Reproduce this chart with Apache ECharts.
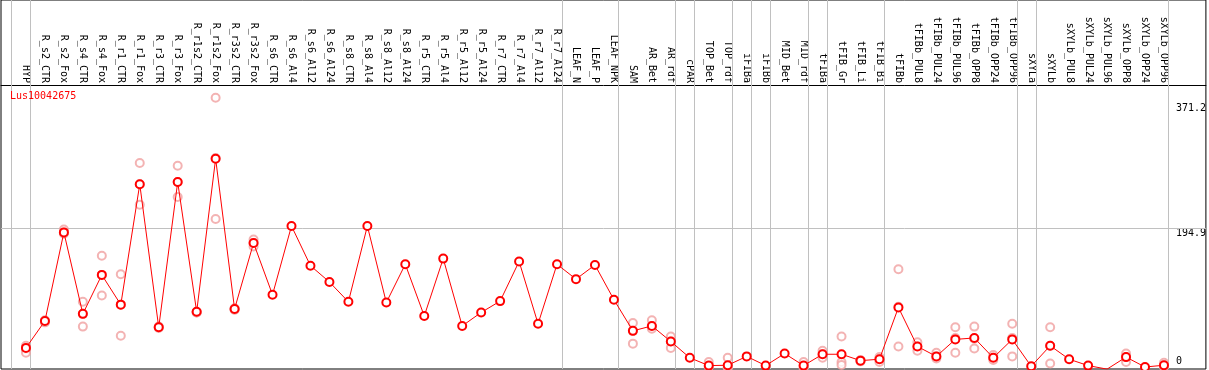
<!DOCTYPE html>
<html>
<head>
<meta charset="utf-8">
<script src="https://cdn.jsdelivr.net/npm/echarts@6/dist/echarts.min.js"></script>
<style>
  html, body { margin: 0; padding: 0; background: #fff; }
  #chart { width: 1209px; height: 370px; }
</style>
</head>
<body>
<div id="chart"></div>
<script>
// 样本名称
var categories = ['HYP', 'R_s2_CTR', 'R_s2_Fox', 'R_s4_CTR', 'R_s4_Fox', 'R_r1_CTR', 'R_r1_Fox', 'R_r3_CTR', 'R_r3_Fox',
    'R_r1s2_CTR', 'R_r1s2_Fox', 'R_r3s2_CTR', 'R_r3s2_Fox', 'R_s6_CTR', 'R_s6_Al4', 'R_s6_Al12', 'R_s6_Al24',
    'R_s8_CTR', 'R_s8_Al4', 'R_s8_Al12', 'R_s8_Al24', 'R_r5_CTR', 'R_r5_Al4', 'R_r5_Al12', 'R_r5_Al24',
    'R_r7_CTR', 'R_r7_Al4', 'R_r7_Al12', 'R_r7_Al24', 'LEAF_N', 'LEAF_P', 'LEAF_NPK', 'SAM', 'AR_Bet', 'AR_rdf',
    'cPAR', 'TOP_Bet', 'TOP_rdf', 'iFIBa', 'iFIBb', 'MID_Bet', 'MID_rdf', 'tFIBa', 'tFIB_Gr', 'tFIB_Li', 'tFIB_Bi',
    'tFIBb', 'tFIBb_PUL8', 'tFIBb_PUL24', 'tFIBb_PUL96', 'tFIBb_OPP8', 'tFIBb_OPP24', 'tFIBb_OPP96',
    'sXYLa', 'sXYLb', 'sXYLb_PUL8', 'sXYLb_PUL24', 'sXYLb_PUL96', 'sXYLb_OPP8', 'sXYLb_OPP24', 'sXYLb_OPP96'];

// 平均值
var means = [26, 64, 189, 74, 129, 87, 257, 55, 260,
    77, 293, 81, 174, 101, 198, 142, 119,
    91, 198, 90, 144, 71, 152, 57, 76,
    92, 148, 60, 144, 123, 143, 94, 50, 57, 35,
    12, 1, 1.5, 14, 1, 18, 1, 17, 17, 8, 10,
    83, 28, 14, 38, 40, 12, 38,
    0, 29, 10, 1, -4, 13, -1, 1.5];

// 重复样本
var rep1 = [29, 65, 193, 91, 156, 130, 287, 56, 283,
    77, 379, 82, 179, null, null, null, null,
    null, null, null, null, null, null, null, null,
    null, null, null, null, null, null, null, 61, 65, 42,
    null, 6, 12, null, null, null, 6, 22, 42, 9, 13,
    137, 34, 19, 55, 56, 16, 60,
    null, 55, null, null, null, 18, null, 5];
var rep2 = [24, 63, 189, 74, 129, 87, 257, 55, 260,
    76, 294, 80, 174, null, null, null, null,
    null, null, null, null, null, null, null, null,
    null, null, null, null, null, null, null, 50, 57, 35,
    null, 0, -2, null, null, null, 0, 17, 6, 8, 10,
    84, 28, 14, 40, 39, 12, 40,
    null, 29, null, null, null, 13, null, 1];
var rep3 = [19, 62, 187, 56, 100, 43, 228, 54, 239,
    76, 208, 80, 169, null, null, null, null,
    null, null, null, null, null, null, null, null,
    null, null, null, null, null, null, null, 32, 53, 26,
    null, -1, -2, null, null, null, -3, 12, 2, 7, 6,
    28, 22, 11, 19, 25, 9, 14,
    null, 4, null, null, null, 6, null, -1];

// 分组分隔线（在这些样本之后）
var groupBreaks = [-1, 0, 28, 31, 34, 35, 37, 38, 39, 41, 42, 45, 52, 53, 60];
var yTicks = [0, 194.9, 371.2];
var geneName = 'Lus10042675';

var myChart = echarts.init(document.getElementById('chart'));

var repData = [];
[rep1, rep2, rep3].forEach(function (arr) {
    arr.forEach(function (v, i) {
        if (v !== null) repData.push([i, v]);
    });
});
var meanData = means.map(function (v, i) { return [i, v]; });
var catIdx = categories.map(function (c, i) { return i; });

var breakLines = groupBreaks.map(function (b) { return { xAxis: b + 0.25 }; });
breakLines.push({ yAxis: yTicks[1] });

var monoFont = 'DejaVu Sans Mono';

option = {
    backgroundColor: '#fff',
    animation: false,
    title: {
        text: geneName,
        left: 10,
        top: 91,
        padding: 0,
        textStyle: {
            color: '#ff0000',
            fontWeight: 'normal',
            fontSize: 10,
            fontFamily: monoFont
        }
    },
    grid: {
        left: 1,
        right: 1,
        top: 0,
        bottom: 1,
        show: true,
        borderColor: '#000',
        borderWidth: 1,
        backgroundColor: 'transparent'
    },
    xAxis: {
        type: 'value',
        position: 'top',
        offset: -85,
        min: -25 / 19,
        max: -25 / 19 + 1207 / 19,
        axisLine: { onZero: false, lineStyle: { color: '#000', width: 1 } },
        axisTick: { show: false },
        splitLine: { show: false },
        axisLabel: {
            customValues: catIdx,
            rotate: 90,
            margin: 2,
            color: '#000',
            fontSize: 10,
            fontFamily: monoFont,
            formatter: function (v) { return categories[Math.round(v)]; }
        }
    },
    yAxis: [{
        type: 'value',
        position: 'right',
        min: -3.81,
        max: 517,
        axisLine: { show: false, onZero: false },
        axisTick: { show: false },
        splitLine: { show: false },
        axisLabel: {
            customValues: [yTicks[1], yTicks[2]],
            inside: true,
            align: 'left',
            verticalAlign: 'top',
            margin: 30,
            color: '#000',
            fontSize: 10,
            fontFamily: monoFont
        }
    }, {
        type: 'value',
        position: 'right',
        min: -3.81,
        max: 517,
        axisLine: { show: false, onZero: false },
        axisTick: { show: false },
        splitLine: { show: false },
        axisLabel: {
            customValues: [yTicks[0]],
            inside: true,
            align: 'left',
            verticalAlign: 'bottom',
            margin: 30,
            color: '#000',
            fontSize: 10,
            fontFamily: monoFont
        }
    }],
    series: [{
        name: 'reps',
        type: 'scatter',
        data: repData,
        symbol: 'emptyCircle',
        symbolSize: 8,
        z: 2,
        itemStyle: {
            color: '#f0a0a0',
            borderColor: '#f0a0a0',
            borderWidth: 1.3
        }
    }, {
        name: 'mean',
        type: 'line',
        data: meanData,
        symbol: 'emptyCircle',
        symbolSize: 8,
        z: 3,
        lineStyle: { color: '#ff0000', width: 1 },
        itemStyle: { color: '#ff0000', borderColor: '#ff0000', borderWidth: 1.6 },
        markLine: {
            silent: true,
            symbol: 'none',
            label: { show: false },
            lineStyle: { color: '#c0c0c0', type: 'solid', width: 1 },
            data: breakLines,
            z: 1
        }
    }]
};
myChart.setOption(option);
</script>
</body>
</html>
